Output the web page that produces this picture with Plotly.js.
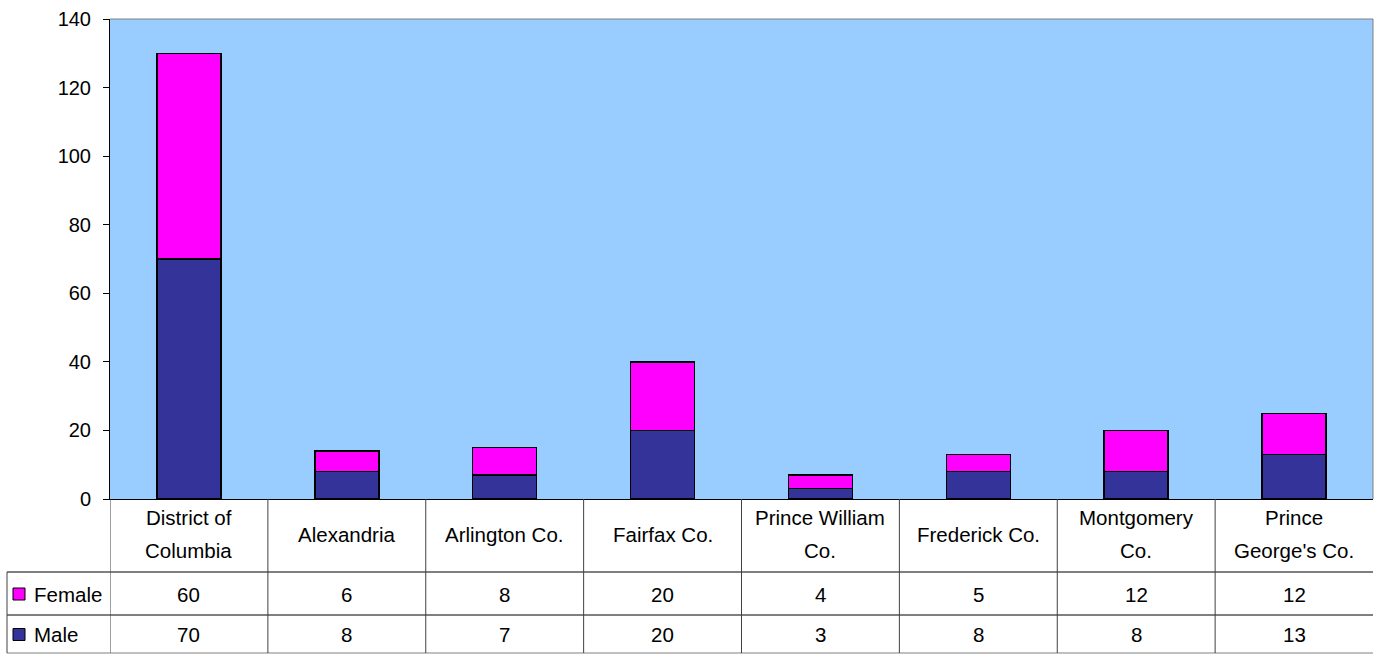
<!DOCTYPE html>
<html>
<head>
<meta charset="utf-8">
<script src="https://cdn.plot.ly/plotly-3.0.1.min.js"></script>
<style>html,body{margin:0;padding:0;background:#fff;}#chart{width:1377px;height:654px;}</style>
</head>
<body>
<div id="chart"></div>
<script>
const categories = ["District of Columbia", "Alexandria", "Arlington Co.", "Fairfax Co.", "Prince William Co.", "Frederick Co.", "Montgomery Co.", "Prince George's Co."];
const categoryLines = [["District of", "Columbia"], ["Alexandria"], ["Arlington Co."], ["Fairfax Co."], ["Prince William", "Co."], ["Frederick Co."], ["Montgomery", "Co."], ["Prince", "George's Co."]];
const female = [60, 6, 8, 20, 4, 5, 12, 12];
const male = [70, 8, 7, 20, 3, 8, 8, 13];
const seriesNames = ["Female", "Male"];
const yTicks = [0, 20, 40, 60, 80, 100, 120, 140];

const FONT = "Liberation Sans, Arial, sans-serif";
const FS = 20.5;
const TICKFS = 20;
const colFemale = "#FF00FF";
const colMale = "#333399";

const traces = [
  {type: "bar", name: "Male", x: categories, y: male,
   marker: {color: colMale, line: {color: "#000", width: 1.5}}, hoverinfo: "y"},
  {type: "bar", name: "Female", x: categories, y: female,
   marker: {color: colFemale, line: {color: "#000", width: 1.5}}, hoverinfo: "y"}
];

// table geometry in paper coords (plot area: y 0 at px 499, 1 at px 19)
const H = 480;
const pyToPaper = p => (499 - p) / H;
const rowTop = pyToPaper(572), rowMid = pyToPaper(615), rowBot = pyToPaper(653);
const headerMid = 534;
const lineGap = 33;
const femaleMid = pyToPaper(594);
const maleMid = pyToPaper(634.5);
const leftEdgeX = (7 - 110) / (1373 - 110);

const shapes = [];
const annotations = [];
// horizontal lines
[rowTop, rowMid].forEach(y => shapes.push({type: "line", xref: "paper", yref: "paper", x0: leftEdgeX, x1: 1, y0: y, y1: y, line: {color: "#000", width: 1}}));
shapes.push({type: "line", xref: "paper", yref: "paper", x0: leftEdgeX, x1: 1, y0: rowBot, y1: rowBot, line: {color: "#808080", width: 1}});
// vertical lines
shapes.push({type: "line", xref: "paper", yref: "paper", x0: leftEdgeX, x1: leftEdgeX, y0: rowTop, y1: rowBot, line: {color: "#404040", width: 1}});
for (let i = 0; i <= categories.length - 1; i++) {
  shapes.push({type: "line", xref: "x", yref: "paper", x0: i - 0.5, x1: i - 0.5, y0: 0, y1: rowBot, line: {color: "#404040", width: 1}});
}
// plot border (top/right gray)
shapes.push({type: "line", xref: "paper", yref: "paper", x0: 0, x1: 1, y0: 1, y1: 1, line: {color: "#808080", width: 1}});
shapes.push({type: "line", xref: "paper", yref: "paper", x0: 1, x1: 1, y0: 0, y1: 1, line: {color: "#808080", width: 1}});

// legend keys
const keyX0 = (13 - 110) / 1263, keyX1 = (25 - 110) / 1263;
[[femaleMid, colFemale], [maleMid, colMale]].forEach(([ym, c]) => {
  const h = 12 / H;
  shapes.push({type: "rect", xref: "paper", yref: "paper", x0: keyX0, x1: keyX1, y0: ym - h / 2, y1: ym + h / 2, fillcolor: c, line: {color: "#000", width: 1}});
});
const labelX = (32 - 110) / 1263;
annotations.push({xref: "paper", yref: "paper", x: labelX, y: femaleMid, xanchor: "left", yanchor: "middle", text: seriesNames[0], showarrow: false, font: {family: FONT, size: FS, color: "#000"}});
annotations.push({xref: "paper", yref: "paper", x: labelX, y: maleMid, xanchor: "left", yanchor: "middle", text: seriesNames[1], showarrow: false, font: {family: FONT, size: FS, color: "#000"}});

categories.forEach((c, i) => {
  const lines = categoryLines[i];
  lines.forEach((ln, k) => {
    const py = headerMid + (k - (lines.length - 1) / 2) * lineGap;
    annotations.push({xref: "x", yref: "paper", x: c, y: pyToPaper(py), xanchor: "center", yanchor: "middle", text: ln, showarrow: false, font: {family: FONT, size: FS, color: "#000"}});
  });
  annotations.push({xref: "x", yref: "paper", x: c, y: femaleMid, xanchor: "center", yanchor: "middle", text: String(female[i]), showarrow: false, font: {family: FONT, size: FS, color: "#000"}});
  annotations.push({xref: "x", yref: "paper", x: c, y: maleMid, xanchor: "center", yanchor: "middle", text: String(male[i]), showarrow: false, font: {family: FONT, size: FS, color: "#000"}});
});

const layout = {
  width: 1377, height: 654,
  margin: {l: 110, r: 4, t: 19, b: 155, pad: 0},
  paper_bgcolor: "#fff",
  plot_bgcolor: "#99CCFF",
  barmode: "stack",
  bargap: 0.595,
  showlegend: false,
  font: {family: FONT, size: FS, color: "#000"},
  xaxis: {type: "category", categoryarray: categories, range: [-0.5, categories.length - 0.5],
          showticklabels: false, ticks: "", showgrid: false, zeroline: false,
          showline: true, linecolor: "#000", linewidth: 1, fixedrange: true},
  yaxis: {range: [0, 140], tickvals: yTicks, ticktext: yTicks.map(String),
          ticks: "outside", ticklen: 6, tickcolor: "#000", tickwidth: 1,
          ticklabelstandoff: 8,
          showgrid: false, zeroline: false, showline: true, linecolor: "#000", linewidth: 1,
          tickfont: {family: FONT, size: TICKFS, color: "#000"}, fixedrange: true},
  shapes: shapes,
  annotations: annotations
};

Plotly.newPlot("chart", traces, layout, {displayModeBar: false, staticPlot: true});
</script>
</body>
</html>
